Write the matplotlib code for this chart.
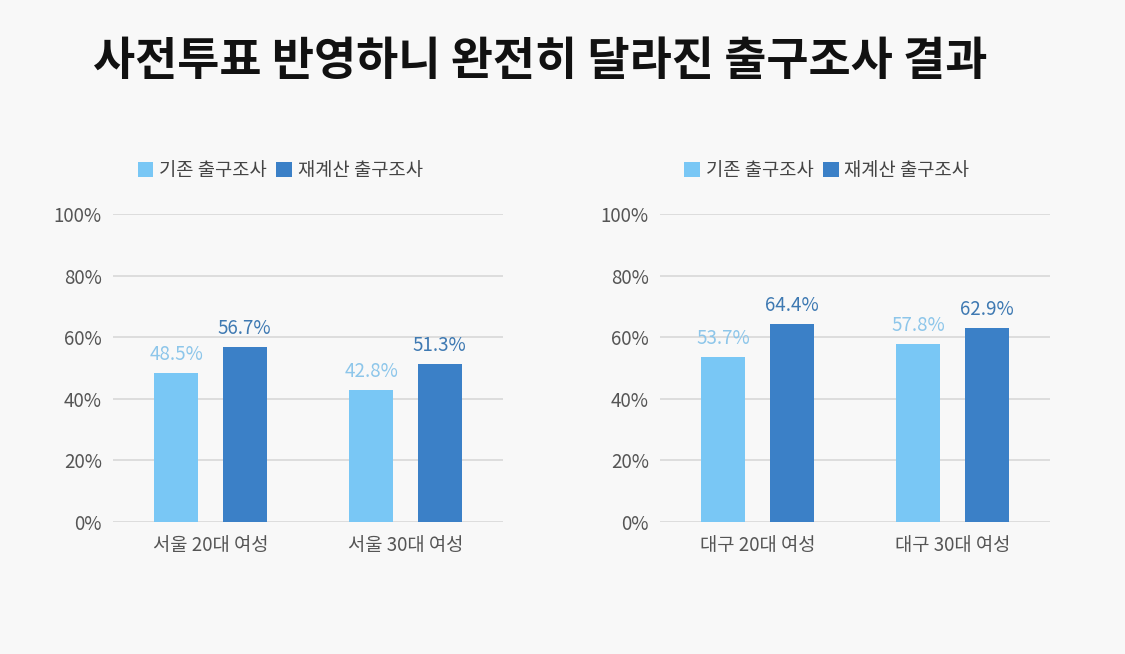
import matplotlib
matplotlib.use('Agg')
import matplotlib.pyplot as plt
import matplotlib.ticker as pltick
import numpy as np

plt.rcParams['font.family'] = ['Noto Sans CJK KR', 'DejaVu Sans']

# Data
title = '사전투표 반영하니 완전히 달라진 출구조사 결과'
series_names = ['기존 출구조사', '재계산 출구조사']
left_cats = ['서울 20대 여성', '서울 30대 여성']
left_old = [48.5, 42.8]
left_new = [56.7, 51.3]
right_cats = ['대구 20대 여성', '대구 30대 여성']
right_old = [53.7, 57.8]
right_new = [64.4, 62.9]
y_ticks = [0, 20, 40, 60, 80, 100]

light = '#79C7F5'
dark = '#3B80C7'
light_txt = '#8DC6EA'
dark_txt = '#3E79B2'
bg = '#F8F8F8'

fig = plt.figure(figsize=(11.25, 6.54), dpi=100, facecolor=bg)
fig.text(0.48, 0.905, title, ha='center', va='center', fontsize=33,
         fontweight='black', color='#111111')


def draw(ax, cats, old, new):
    x = np.arange(len(cats))
    w = 0.226
    off = 0.175
    b1 = ax.bar(x - off, old, w, color=light, label=series_names[0], zorder=3)
    b2 = ax.bar(x + off, new, w, color=dark, label=series_names[1], zorder=3)
    for r, v in zip(b1, old):
        ax.text(r.get_x() + r.get_width() / 2, v + 2.6, f'{v:.1f}%', ha='center',
                va='bottom', fontsize=13.5, color=light_txt)
    for r, v in zip(b2, new):
        ax.text(r.get_x() + r.get_width() / 2, v + 2.6, f'{v:.1f}%', ha='center',
                va='bottom', fontsize=13.5, color=dark_txt, fontweight='medium')
    ax.set_xlim(-0.5, 1.5)
    ax.set_ylim(0, 100)
    ax.set_yticks(y_ticks)
    ax.yaxis.set_major_formatter(pltick.StrMethodFormatter('{x:.0f}%'))
    ax.set_xticks(x)
    ax.set_xticklabels(cats)
    ax.set_facecolor(bg)
    ax.grid(axis='y', color='#D8D8D8', linewidth=1.2, zorder=0)
    for s in ax.spines.values():
        s.set_visible(False)
    ax.tick_params(axis='both', length=0, labelsize=13.5, labelcolor='#555555')
    ax.tick_params(axis='y', pad=8)
    ax.tick_params(axis='x', pad=9)
    return b1, b2


ax1 = fig.add_axes([0.1004, 0.2018, 0.3467, 0.471])
ax2 = fig.add_axes([0.5867, 0.2018, 0.3467, 0.471])
draw(ax1, left_cats, left_old, left_new)
draw(ax2, right_cats, right_old, right_new)

for ax, cx in [(ax1, 0.249), (ax2, 0.735)]:
    ax.legend(loc='center', bbox_to_anchor=(cx, 0.74), bbox_transform=fig.transFigure,
              ncol=2, frameon=False, fontsize=13.5, handlelength=0.85, handleheight=0.85,
              handletextpad=0.3, columnspacing=0.5, labelcolor='#444444')

plt.savefig('out.png', dpi=100, facecolor=bg)
